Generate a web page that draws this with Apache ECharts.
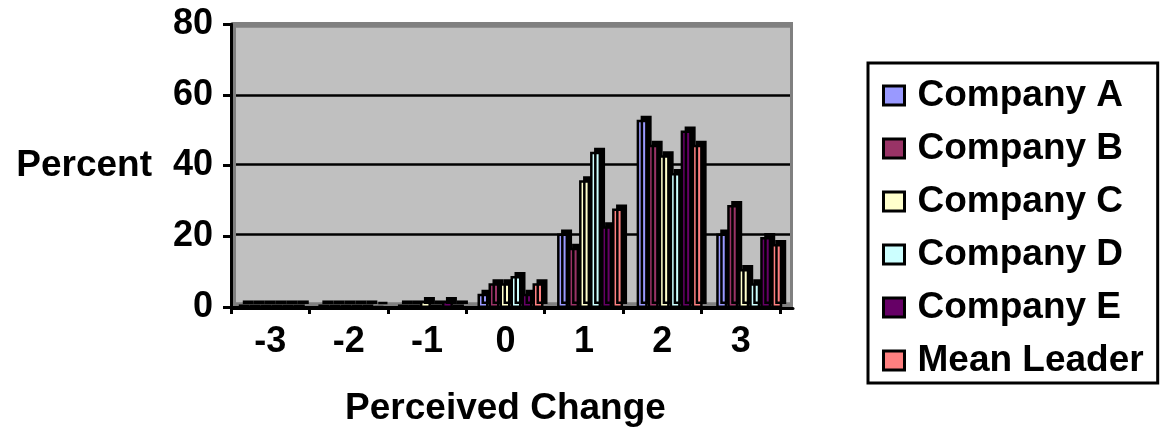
<!DOCTYPE html>
<html>
<head>
<meta charset="utf-8">
<title>Perceived Change</title>
<script src="https://cdn.jsdelivr.net/npm/echarts@6/dist/echarts.min.js"></script>
<style>
  html, body { margin: 0; padding: 0; background: #ffffff; }
  #chart { width: 1164px; height: 432px; }
</style>
</head>
<body>
<div id="chart"></div>
<script>
// Perceived change ratings (percent of respondents) per company
const categories = ['-3', '-2', '-1', '0', '1', '2', '3'];
const seriesNames = ['Company A', 'Company B', 'Company C', 'Company D', 'Company E', 'Mean Leader'];
const companyA = [1, 1, 1, 4, 21, 53, 21];
const companyB = [1, 1, 1, 7, 17, 46, 29];
const companyC = [1, 1, 2, 7, 36, 43, 11];
const companyD = [1, 1, 1, 9, 44, 38, 7];
const companyE = [1, 1, 2, 4, 23, 50, 20];
const meanLeader = [1, 0.5, 1, 7, 28, 46, 18];
const yTicks = { min: 0, max: 80, step: 20 };

const seriesValues = [companyA, companyB, companyC, companyD, companyE, meanLeader];
const palette = ['#9999ff', '#993366', '#ffffcc', '#ccffff', '#660066', '#ff8080'];
const FONT = "'Liberation Sans', Arial, sans-serif";

const chart = echarts.init(document.getElementById('chart'), null, { renderer: 'canvas' });

const hiddenCat = {
  type: 'category', data: categories, show: true,
  axisLine: { show: false }, axisTick: { show: false }, axisLabel: { show: false }, splitLine: { show: false }
};
const hiddenVal = {
  type: 'value', min: yTicks.min, max: yTicks.max, interval: yTicks.step,
  axisLine: { show: false }, axisTick: { show: false }, axisLabel: { show: false }, splitLine: { show: false }
};

chart.setOption({
  animation: false,
  backgroundColor: '#ffffff',
  textStyle: { fontFamily: FONT },
  grid: [
    // side walls and floor
    { left: 232, top: 22, width: 561, height: 286, show: true, backgroundColor: '#808080', borderWidth: 0 },
    // back wall with gridlines
    { left: 236, top: 26, width: 554, height: 277, show: true, backgroundColor: '#c0c0c0', borderWidth: 0 },
    // front axes
    { left: 231, top: 24, width: 549, height: 284 },
    // bars
    { left: 232, top: 24, width: 557, height: 284 }
  ],
  xAxis: [
    Object.assign({}, hiddenCat, { gridIndex: 0,
      axisLine: { show: true, lineStyle: { color: '#000', width: 3 } } }),
    Object.assign({}, hiddenCat, { gridIndex: 1 }),
    {
      type: 'category', gridIndex: 2, data: categories,
      axisLine: { show: true, lineStyle: { color: '#000', width: 3 } },
      axisTick: { show: true, length: 7, lineStyle: { color: '#000', width: 3 } },
      axisLabel: { color: '#000', fontSize: 36, fontWeight: 'bold', fontFamily: FONT, margin: 17 },
      name: 'Perceived Change', nameLocation: 'middle', nameGap: 83,
      nameTextStyle: { color: '#000', fontSize: 37, fontWeight: 'bold', fontFamily: FONT }
    },
    Object.assign({}, hiddenCat, { gridIndex: 3 })
  ],
  yAxis: [
    Object.assign({}, hiddenVal, { gridIndex: 0 }),
    Object.assign({}, hiddenVal, { gridIndex: 1,
      splitLine: { show: true, lineStyle: { color: ['#808080', '#000', '#000', '#000', '#808080'], width: 2.5 } } }),
    {
      type: 'value', gridIndex: 2, min: yTicks.min, max: yTicks.max, interval: yTicks.step,
      axisLine: { show: true, lineStyle: { color: '#000', width: 3 } },
      axisTick: { show: true, length: 8, lineStyle: { color: '#000', width: 3 } },
      axisLabel: { color: '#000', fontSize: 36, fontWeight: 'bold', fontFamily: FONT, margin: 18 },
      splitLine: { show: false },
      name: 'Percent', nameLocation: 'middle', nameRotate: 0, nameGap: 79,
      nameTextStyle: { color: '#000', fontSize: 37, fontWeight: 'bold', fontFamily: FONT }
    },
    Object.assign({}, hiddenVal, { gridIndex: 3 })
  ],
  legend: {
    orient: 'vertical', left: 868, top: 63,
    padding: [14, 14, 4, 14],
    itemGap: 16, itemWidth: 21, itemHeight: 19,
    icon: 'rect',
    borderColor: '#000', borderWidth: 3, backgroundColor: '#fff',
    itemStyle: { borderColor: '#000', borderWidth: 3, shadowBlur: 0, shadowOffsetX: 0, shadowOffsetY: 0, shadowColor: 'rgba(0,0,0,0)' },
    textStyle: { color: '#000', fontSize: 37, fontWeight: 'bold', fontFamily: FONT, lineHeight: 36, padding: [0, 0, 0, 8] },
    data: seriesNames
  },
  series: seriesNames.map((name, i) => ({
    name: name,
    type: 'bar',
    xAxisIndex: 3, yAxisIndex: 3,
    data: seriesValues[i],
    barWidth: 11,
    barGap: '0%',
    itemStyle: {
      color: palette[i],
      borderColor: '#000', borderWidth: 2.5,
      shadowColor: '#000', shadowBlur: 0, shadowOffsetX: 4, shadowOffsetY: -4
    },
    emphasis: { disabled: true }
  }))
});
</script>
</body>
</html>
